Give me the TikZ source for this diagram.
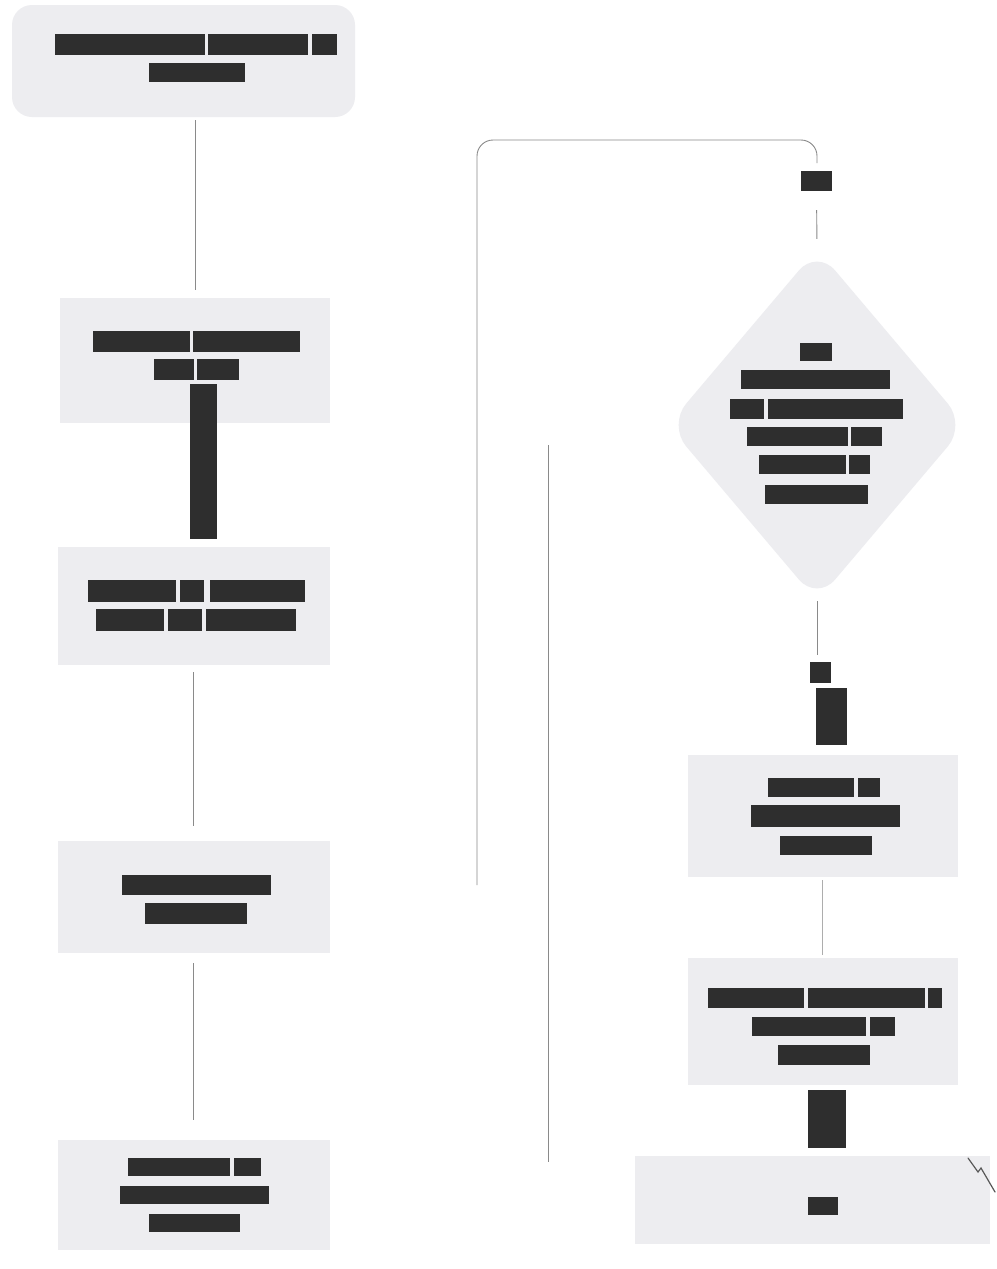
\documentclass[tikz,border=0pt]{standalone}
\usetikzlibrary{shapes.geometric}
\definecolor{boxgray}{HTML}{EDEDF0}
\definecolor{bargray}{HTML}{2E2E2E}
\definecolor{linegray}{HTML}{8A8A8A}
\tikzset{
  box/.style={rectangle, fill=boxgray, draw=none, inner sep=0pt},
  bar/.style={fill=bargray, draw=none},
  lbl/.style={rectangle, fill=bargray, draw=none, inner sep=0pt},
  link/.style={draw=linegray, line width=0.9pt},
}
\begin{document}
\begin{tikzpicture}[x=1pt,y=-1pt]
\useasboundingbox (0,0) rectangle (996,1269);
\fill[white] (0,0) rectangle (996,1269);

% ---------- boxes ----------
\node[box, rounded corners=20pt, minimum width=343pt, minimum height=112pt] (b1) at (183.5,61) {};
\node[box, minimum width=270pt, minimum height=125pt] (b2) at (195,360.5) {};
\node[box, minimum width=272pt, minimum height=118pt] (b3) at (194,606) {};
\node[box, minimum width=272pt, minimum height=112pt] (b4) at (194,897) {};
\node[box, minimum width=272pt, minimum height=110pt] (b5) at (194,1195) {};
\node[diamond, fill=boxgray, draw=none, inner sep=0pt, rounded corners=28pt,
      minimum width=298pt, minimum height=352pt, aspect=0.85] (dia) at (817,425) {};
\node[box, minimum width=270pt, minimum height=122pt] (b6) at (823,816) {};
\node[box, minimum width=270pt, minimum height=127pt] (b7) at (823,1021.5) {};
\node[box, minimum width=355pt, minimum height=88pt] (b8) at (812.5,1200) {};

% ---------- redacted text bars ----------
% box 1
\fill[bar] (55,34) rectangle (205,55);
\fill[bar] (208,34) rectangle (308,55);
\fill[bar] (312,34) rectangle (337,55);
\fill[bar] (149,63) rectangle (245,82);
% box 2
\fill[bar] (93,331) rectangle (190,352);
\fill[bar] (193,331) rectangle (300,352);
\fill[bar] (154,359) rectangle (194,380);
\fill[bar] (197,359) rectangle (239,380);
% box 3
\fill[bar] (88,580) rectangle (176,602);
\fill[bar] (180,580) rectangle (204,602);
\fill[bar] (210,580) rectangle (305,602);
\fill[bar] (96,609) rectangle (164,631);
\fill[bar] (168,609) rectangle (202,631);
\fill[bar] (206,609) rectangle (296,631);
% box 4
\fill[bar] (122,875) rectangle (271,895);
\fill[bar] (145,903) rectangle (247,924);
% box 5
\fill[bar] (128,1158) rectangle (230,1176);
\fill[bar] (234,1158) rectangle (261,1176);
\fill[bar] (120,1186) rectangle (269,1204);
\fill[bar] (149,1214) rectangle (240,1232);
% diamond
\fill[bar] (800,343) rectangle (832,361);
\fill[bar] (741,370) rectangle (890,389);
\fill[bar] (730,399) rectangle (764,419);
\fill[bar] (768,399) rectangle (903,419);
\fill[bar] (747,427) rectangle (848,446);
\fill[bar] (851,427) rectangle (882,446);
\fill[bar] (759,455) rectangle (846,474);
\fill[bar] (849,455) rectangle (870,474);
\fill[bar] (765,485) rectangle (868,504);
% box 6
\fill[bar] (768,778) rectangle (854,797);
\fill[bar] (858,778) rectangle (880,797);
\fill[bar] (751,805) rectangle (900,827);
\fill[bar] (780,836) rectangle (872,855);
% box 7
\fill[bar] (708,988) rectangle (804,1008);
\fill[bar] (808,988) rectangle (925,1008);
\fill[bar] (928,988) rectangle (942,1008);
\fill[bar] (752,1017) rectangle (866,1036);
\fill[bar] (870,1017) rectangle (895,1036);
\fill[bar] (778,1045) rectangle (870,1065);
% box 8
\fill[bar] (808,1197) rectangle (838,1215);

% ---------- connector labels (redacted) ----------
\node[lbl, minimum width=27pt, minimum height=155pt] (l2) at (203.5,461.5) {};
\node[lbl, minimum width=31pt, minimum height=20pt] (lyes) at (816.5,181) {};
\node[lbl, minimum width=21pt, minimum height=21pt] (lno) at (820.5,672.5) {};
\node[lbl, minimum width=31pt, minimum height=57pt] (lno2) at (831.5,716.5) {};
\node[lbl, minimum width=38pt, minimum height=58pt] (l7) at (827,1119) {};

% ---------- connectors ----------
\draw[link, shorten <=3pt, shorten >=8pt] (b1.south -| 195,0) -- (b2.north -| 195,0);
\draw[link, shorten <=7pt, shorten >=15pt] (b3.south -| 193,0) -- (b4.north -| 193,0);
\draw[link, shorten <=10pt, shorten >=20pt] (b4.south -| 193,0) -- (b5.north -| 193,0);

\coordinate (loopA) at (477,885);
\coordinate (loopB) at (817,163);
\draw[link, rounded corners=16pt] (loopA) -- (477,140) -- (817,140) -- (loopB);
\draw[link, shorten <=19pt, shorten >=10pt] (lyes.south) -- (dia.north);
\draw[link, shorten >=7pt] (dia.south) -- (lno.north -| dia.south);
\draw[link, draw=linegray!70, shorten <=3pt, shorten >=3pt] (b6.south -| 822,0) -- (b7.north -| 822,0);

\coordinate (vA) at (548,445);
\coordinate (vB) at (548,1162);
\draw[link] (vA) -- (vB);

% hand-drawn tick at bottom right
\draw[bargray!80, line width=1.2pt, line cap=round] (968,1158) -- (978,1172) -- (981,1168) -- (995,1192);
\end{tikzpicture}
\end{document}
